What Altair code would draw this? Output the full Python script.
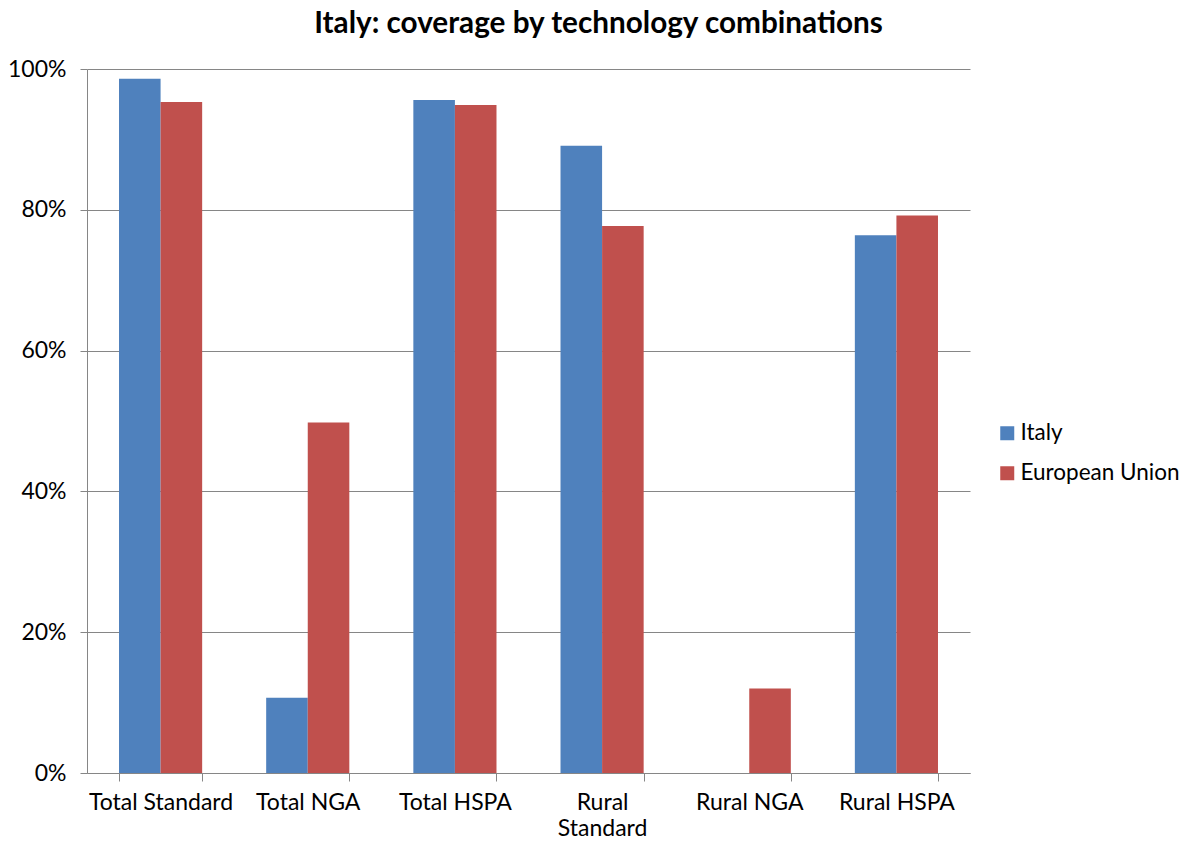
import altair as alt
import pandas as pd

categories = ["Total Standard", "Total NGA", "Total HSPA", "Rural Standard", "Rural NGA", "Rural HSPA"]
series = ["Italy", "European Union"]
italy = [0.986, 0.107, 0.956, 0.891, 0.0, 0.764]
eu = [0.953, 0.498, 0.949, 0.777, 0.120, 0.792]
colors = ["#4F81BD", "#C0504D"]

rows = []
for c, a, b in zip(categories, italy, eu):
    rows.append({"category": c, "series": "Italy", "value": a})
    rows.append({"category": c, "series": "European Union", "value": b})
df = pd.DataFrame(rows)

FONT = "Lato"
GRID = "#868686"
FS = 23

chart = alt.Chart(df).mark_bar().encode(
    x=alt.X("category:N", sort=categories,
            scale=alt.Scale(paddingInner=0.435, paddingOuter=0.2175),
            axis=alt.Axis(title=None, labelAngle=0, tickBand="extent",
                          labelFontSize=FS, labelFont=FONT, labelColor="#000000",
                          labelPadding=10, tickSize=8, tickColor=GRID,
                          domainColor=GRID, labelLineHeight=26,
                          labelExpr="datum.label == 'Rural Standard' ? ['Rural', 'Standard'] : datum.label")),
    xOffset=alt.XOffset("series:N", sort=series),
    y=alt.Y("value:Q", scale=alt.Scale(domain=[0, 1]),
            axis=alt.Axis(title=None, format=".0%", values=[0, 0.2, 0.4, 0.6, 0.8, 1.0],
                          labelFontSize=FS, labelFont=FONT, labelColor="#000000",
                          labelPadding=14, tickSize=7, tickColor=GRID,
                          domainColor=GRID, gridColor=GRID)),
    color=alt.Color("series:N", sort=series,
                    scale=alt.Scale(domain=series, range=colors),
                    legend=alt.Legend(title=None, orient="none", legendX=909, legendY=353,
                                      symbolType="square", symbolSize=196,
                                      symbolStrokeWidth=0, labelLimit=400,
                                      labelFontSize=22.5, labelFont=FONT, labelColor="#000000",
                                      rowPadding=17, labelOffset=2)),
).properties(
    width=883,
    height=704,
    background="white",
    autosize=alt.AutoSizeParams(type="none"),
    padding={"left": 79, "top": 61, "right": 210, "bottom": 64},
    title=alt.Title("Italy: coverage by technology combinations", fontSize=29.7,
                    font=FONT, fontWeight="bold", color="#000000",
                    anchor="middle", frame="group", dx=70, offset=18),
).configure_view(stroke=None)

chart.save("out.html", embed_options={"renderer": "svg", "actions": False})
